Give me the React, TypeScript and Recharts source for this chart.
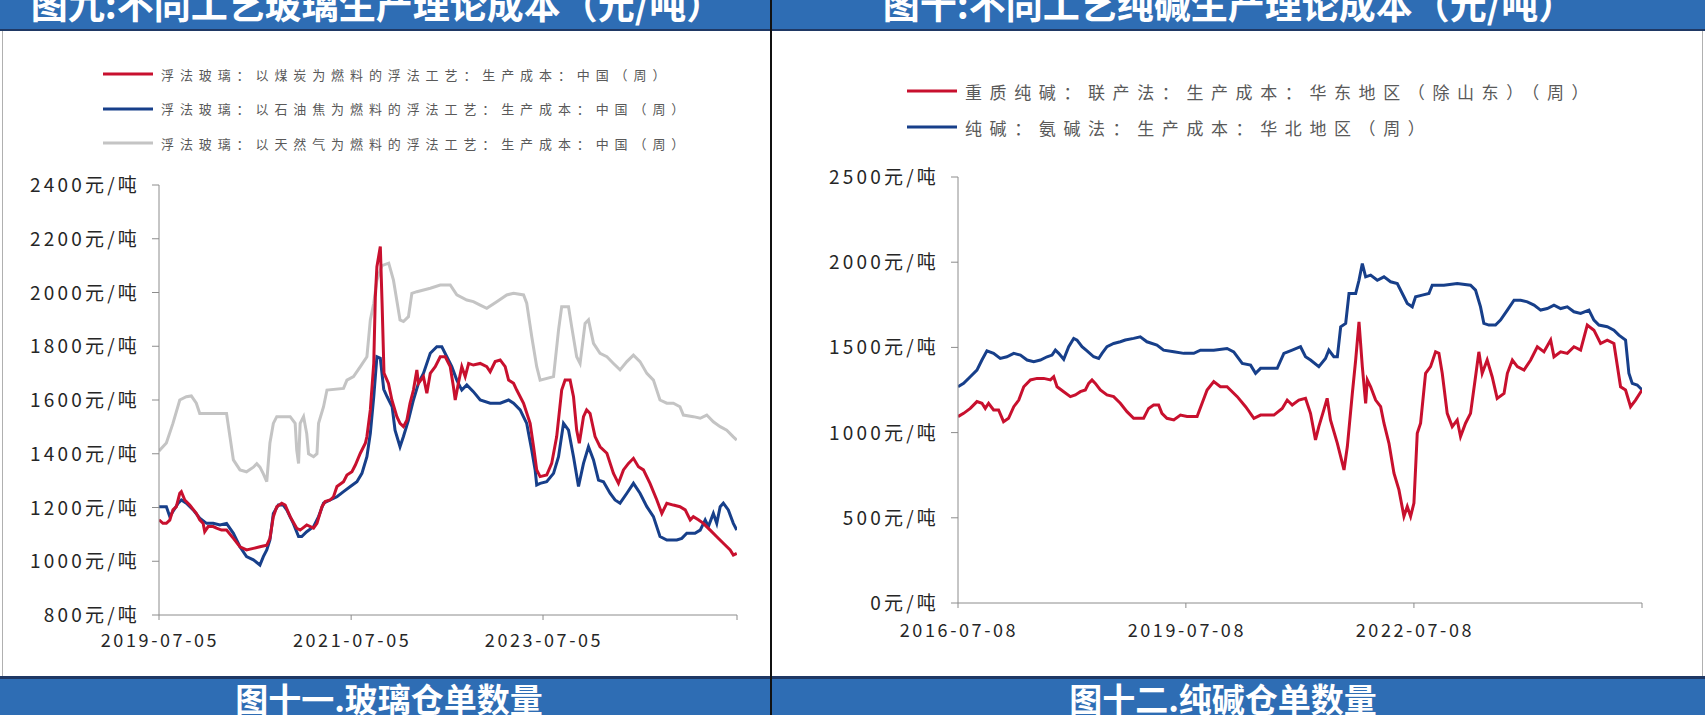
import React from 'react';
import { LineChart, Line, XAxis, YAxis } from 'recharts';

const FONT = '"Noto Sans CJK SC", "Noto Sans", sans-serif';
const BAR_BLUE = '#2E6DB4';
const BAR_EDGE = '#1F3864';
const RED = '#C8102E';
const NAVY = '#173F8A';
const GRAY = '#C4C4C4';

// 图九 玻璃生产理论成本
const glassXTicks = ['2019-07-05', '2021-07-05', '2023-07-05', '2025-07-12'];
const glassYTicks = [800, 1000, 1200, 1400, 1600, 1800, 2000, 2200, 2400];
const glassNames = [
  '浮法玻璃：以煤炭为燃料的浮法工艺：生产成本：中国（周）',
  '浮法玻璃：以石油焦为燃料的浮法工艺：生产成本：中国（周）',
  '浮法玻璃：以天然气为燃料的浮法工艺：生产成本：中国（周）',
];

const glassCoal: [string, number][] = [
  ['2019-07-05', 1154], ['2019-07-20', 1141], ['2019-08-02', 1141], ['2019-08-15', 1153],
  ['2019-08-27', 1191], ['2019-09-09', 1203], ['2019-09-22', 1253], ['2019-09-28', 1259],
  ['2019-10-11', 1228], ['2019-10-30', 1209], ['2019-11-24', 1178], ['2019-12-07', 1154],
  ['2019-12-20', 1141], ['2019-12-26', 1110], ['2020-01-08', 1129], ['2020-01-27', 1129],
  ['2020-02-09', 1123], ['2020-02-28', 1116], ['2020-03-18', 1116], ['2020-04-13', 1085],
  ['2020-05-08', 1054], ['2020-06-02', 1042], ['2020-06-28', 1048], ['2020-07-23', 1054],
  ['2020-08-18', 1060], ['2020-08-30', 1085], ['2020-09-12', 1166], ['2020-09-25', 1203],
  ['2020-10-14', 1216], ['2020-10-27', 1209], ['2020-11-15', 1166], ['2020-12-10', 1123],
  ['2020-12-23', 1116], ['2021-01-17', 1135], ['2021-02-12', 1123], ['2021-02-25', 1141],
  ['2021-03-16', 1203], ['2021-03-28', 1222], ['2021-04-16', 1228], ['2021-04-29', 1240],
  ['2021-05-12', 1278], ['2021-06-06', 1296], ['2021-06-19', 1321], ['2021-07-08', 1333],
  ['2021-07-21', 1358], ['2021-08-09', 1402], ['2021-08-28', 1439], ['2021-09-03', 1464],
  ['2021-09-16', 1563], ['2021-09-29', 1736], ['2021-10-05', 1984], ['2021-10-11', 2096],
  ['2021-10-24', 2171], ['2021-10-31', 1950], ['2021-11-07', 1700], ['2021-11-24', 1662],
  ['2021-12-07', 1600], ['2021-12-26', 1538], ['2022-01-07', 1513], ['2022-01-20', 1501],
  ['2022-02-02', 1525], ['2022-02-14', 1588], ['2022-02-27', 1637], ['2022-03-12', 1712],
  ['2022-03-18', 1662], ['2022-04-06', 1687], ['2022-04-19', 1625], ['2022-05-02', 1699],
  ['2022-05-21', 1724], ['2022-06-09', 1761], ['2022-06-28', 1761], ['2022-07-17', 1724],
  ['2022-07-29', 1650], ['2022-08-05', 1600], ['2022-08-17', 1662], ['2022-08-30', 1724],
  ['2022-09-12', 1687], ['2022-09-25', 1736], ['2022-10-13', 1730], ['2022-11-08', 1736],
  ['2022-12-03', 1724], ['2022-12-16', 1705], ['2023-01-04', 1743], ['2023-01-23', 1749],
  ['2023-02-11', 1724], ['2023-02-24', 1674], ['2023-03-15', 1662], ['2023-03-27', 1637],
  ['2023-04-22', 1588], ['2023-05-17', 1513], ['2023-05-30', 1426], ['2023-06-11', 1340],
  ['2023-06-24', 1315], ['2023-07-19', 1321], ['2023-08-07', 1364], ['2023-08-26', 1464],
  ['2023-09-14', 1637], ['2023-09-27', 1674], ['2023-10-16', 1674], ['2023-10-29', 1612],
  ['2023-11-10', 1488], ['2023-11-20', 1439], ['2023-12-06', 1538], ['2023-12-18', 1563],
  ['2023-12-31', 1550], ['2024-01-19', 1464], ['2024-02-07', 1426], ['2024-03-04', 1402],
  ['2024-03-29', 1327], ['2024-04-17', 1290], ['2024-05-06', 1340], ['2024-05-25', 1364],
  ['2024-06-13', 1383], ['2024-07-02', 1352], ['2024-07-21', 1340], ['2024-08-15', 1290],
  ['2024-09-10', 1228], ['2024-09-29', 1178], ['2024-10-18', 1216], ['2024-11-12', 1209],
  ['2024-12-07', 1203], ['2024-12-27', 1191], ['2025-01-15', 1154], ['2025-01-27', 1166],
  ['2025-02-15', 1154], ['2025-03-06', 1141], ['2025-04-01', 1116], ['2025-04-26', 1091],
  ['2025-05-21', 1067], ['2025-06-16', 1042], ['2025-06-28', 1023], ['2025-07-11', 1029],
];

const glassPetcoke: [string, number][] = [
  ['2019-07-05', 1203], ['2019-08-02', 1203], ['2019-08-15', 1166], ['2019-08-27', 1185],
  ['2019-09-16', 1216], ['2019-09-28', 1228], ['2019-10-17', 1216], ['2019-11-12', 1191],
  ['2019-12-07', 1160], ['2020-01-02', 1141], ['2020-01-27', 1141], ['2020-02-22', 1135],
  ['2020-03-18', 1141], ['2020-04-13', 1104], ['2020-05-08', 1054], ['2020-06-02', 1017],
  ['2020-06-28', 1005], ['2020-07-23', 986], ['2020-08-05', 1017], ['2020-08-18', 1042],
  ['2020-08-30', 1079], ['2020-09-12', 1178], ['2020-10-01', 1209], ['2020-10-20', 1209],
  ['2020-11-02', 1191], ['2020-11-27', 1141], ['2020-12-17', 1092], ['2020-12-29', 1092],
  ['2021-01-17', 1110], ['2021-02-12', 1129], ['2021-03-03', 1166], ['2021-03-22', 1216],
  ['2021-04-16', 1228], ['2021-05-12', 1240], ['2021-06-06', 1259], ['2021-07-02', 1278],
  ['2021-07-27', 1296], ['2021-08-15', 1327], ['2021-09-03', 1389], ['2021-09-16', 1476],
  ['2021-09-29', 1612], ['2021-10-11', 1761], ['2021-10-24', 1755], ['2021-11-06', 1640],
  ['2021-11-19', 1612], ['2021-12-08', 1575], ['2021-12-19', 1488], ['2022-01-07', 1426],
  ['2022-01-20', 1464], ['2022-02-08', 1525], ['2022-02-27', 1600], ['2022-03-18', 1662],
  ['2022-04-06', 1699], ['2022-05-02', 1774], ['2022-05-27', 1798], ['2022-06-15', 1798],
  ['2022-07-04', 1761], ['2022-07-23', 1724], ['2022-08-11', 1674], ['2022-08-30', 1637],
  ['2022-09-18', 1656], ['2022-10-13', 1631], ['2022-11-08', 1600], ['2022-12-16', 1588],
  ['2023-01-23', 1588], ['2023-02-24', 1600], ['2023-03-15', 1588], ['2023-04-09', 1563],
  ['2023-05-04', 1513], ['2023-05-23', 1414], ['2023-06-05', 1340], ['2023-06-11', 1284],
  ['2023-06-24', 1290], ['2023-07-19', 1296], ['2023-08-14', 1327], ['2023-09-02', 1389],
  ['2023-09-21', 1513], ['2023-10-10', 1488], ['2023-10-29', 1389], ['2023-11-17', 1278],
  ['2023-12-06', 1364], ['2023-12-25', 1426], ['2024-01-13', 1377], ['2024-02-01', 1302],
  ['2024-02-20', 1296], ['2024-03-16', 1253], ['2024-04-04', 1228], ['2024-04-23', 1216],
  ['2024-05-19', 1253], ['2024-06-13', 1290], ['2024-07-08', 1253], ['2024-08-03', 1203],
  ['2024-08-28', 1166], ['2024-09-22', 1092], ['2024-10-18', 1079], ['2024-11-25', 1079],
  ['2024-12-14', 1085], ['2025-01-02', 1104], ['2025-02-02', 1104], ['2025-02-22', 1116],
  ['2025-03-13', 1154], ['2025-03-25', 1129], ['2025-04-13', 1178], ['2025-04-26', 1141],
  ['2025-05-09', 1203], ['2025-05-21', 1216], ['2025-06-09', 1191], ['2025-06-28', 1141],
  ['2025-07-11', 1116],
];

const glassGas: [string, number][] = [
  ['2019-07-05', 1410], ['2019-08-02', 1440], ['2019-08-27', 1513], ['2019-09-22', 1600],
  ['2019-10-17', 1612], ['2019-11-05', 1615], ['2019-11-24', 1588], ['2019-12-07', 1550],
  ['2020-03-18', 1550], ['2020-03-31', 1463], ['2020-04-13', 1377], ['2020-05-08', 1340],
  ['2020-06-02', 1333], ['2020-06-28', 1350], ['2020-07-11', 1363], ['2020-07-23', 1350],
  ['2020-08-05', 1325], ['2020-08-18', 1296], ['2020-08-30', 1440], ['2020-09-12', 1513],
  ['2020-09-25', 1538], ['2020-11-15', 1538], ['2020-12-04', 1513], ['2020-12-10', 1414],
  ['2020-12-17', 1364], ['2020-12-23', 1513], ['2021-01-05', 1538], ['2021-01-17', 1475],
  ['2021-01-24', 1400], ['2021-02-12', 1389], ['2021-02-25', 1400], ['2021-03-03', 1513],
  ['2021-03-22', 1575], ['2021-04-04', 1637], ['2021-06-06', 1643], ['2021-06-19', 1674],
  ['2021-07-14', 1687], ['2021-08-09', 1724], ['2021-09-03', 1761], ['2021-09-16', 1898],
  ['2021-09-29', 1960], ['2021-10-11', 2046], ['2021-10-30', 2100], ['2021-11-25', 2109],
  ['2021-12-13', 2046], ['2022-01-07', 1898], ['2022-01-20', 1892], ['2022-02-08', 1910],
  ['2022-02-21', 1997], ['2022-03-12', 2003], ['2022-05-02', 2016], ['2022-06-09', 2028],
  ['2022-07-17', 2028], ['2022-08-11', 1991], ['2022-09-18', 1972], ['2022-10-13', 1966],
  ['2022-11-08', 1953], ['2022-12-03', 1941], ['2023-01-10', 1966], ['2023-02-17', 1991],
  ['2023-03-15', 1997], ['2023-04-22', 1991], ['2023-05-04', 1960], ['2023-05-23', 1836],
  ['2023-06-11', 1724], ['2023-06-24', 1674], ['2023-08-14', 1687], ['2023-09-02', 1860],
  ['2023-09-14', 1947], ['2023-10-10', 1947], ['2023-10-22', 1873], ['2023-11-10', 1761],
  ['2023-11-23', 1736], ['2023-12-12', 1885], ['2023-12-25', 1898], ['2024-01-13', 1811],
  ['2024-02-07', 1774], ['2024-03-04', 1761], ['2024-03-29', 1736], ['2024-04-23', 1712],
  ['2024-05-19', 1743], ['2024-06-13', 1767], ['2024-07-08', 1743], ['2024-08-03', 1699],
  ['2024-08-28', 1674], ['2024-09-22', 1600], ['2024-10-18', 1588], ['2024-11-12', 1588],
  ['2024-12-07', 1575], ['2024-12-20', 1544], ['2025-01-27', 1538], ['2025-02-22', 1532],
  ['2025-03-19', 1544], ['2025-04-13', 1519], ['2025-05-09', 1501], ['2025-06-03', 1488],
  ['2025-06-28', 1463], ['2025-07-11', 1451],
];

// 图十 纯碱生产理论成本
const sodaXTicks = ['2016-07-08', '2019-07-08', '2022-07-08', '2025-07-08'];
const sodaYTicks = [0, 500, 1000, 1500, 2000, 2500];
const sodaNames = [
  '重质纯碱：联产法：生产成本：华东地区（除山东）（周）',
  '纯碱：氨碱法：生产成本：华北地区（周）',
];

const sodaJoint: [string, number][] = [
  ['2016-07-08', 1094], ['2016-08-04', 1113], ['2016-09-05', 1142], ['2016-10-07', 1182],
  ['2016-10-31', 1172], ['2016-11-16', 1142], ['2016-12-02', 1172], ['2016-12-26', 1133],
  ['2017-01-19', 1133], ['2017-02-12', 1064], ['2017-03-08', 1084], ['2017-04-02', 1152],
  ['2017-04-26', 1191], ['2017-05-20', 1269], ['2017-06-21', 1309], ['2017-07-23', 1318],
  ['2017-08-24', 1318], ['2017-09-25', 1309], ['2017-10-11', 1328], ['2017-10-27', 1269],
  ['2017-11-28', 1240], ['2017-12-30', 1211], ['2018-01-23', 1221], ['2018-02-16', 1240],
  ['2018-03-12', 1250], ['2018-03-28', 1289], ['2018-04-13', 1309], ['2018-04-29', 1289],
  ['2018-05-23', 1250], ['2018-06-24', 1221], ['2018-07-26', 1211], ['2018-08-27', 1172],
  ['2018-09-28', 1123], ['2018-10-30', 1084], ['2018-12-17', 1084], ['2019-01-10', 1142],
  ['2019-02-03', 1162], ['2019-02-27', 1162], ['2019-03-15', 1113], ['2019-04-08', 1084],
  ['2019-05-11', 1074], ['2019-06-12', 1103], ['2019-07-14', 1094], ['2019-08-31', 1094],
  ['2019-09-24', 1172], ['2019-10-18', 1250], ['2019-11-19', 1299], ['2019-12-21', 1269],
  ['2020-01-22', 1269], ['2020-03-11', 1211], ['2020-04-20', 1152], ['2020-05-30', 1084],
  ['2020-07-01', 1103], ['2020-09-03', 1103], ['2020-10-13', 1142], ['2020-11-06', 1191],
  ['2020-11-30', 1162], ['2021-01-01', 1191], ['2021-02-02', 1201], ['2021-02-26', 1113],
  ['2021-03-22', 957], ['2021-04-07', 1035], ['2021-05-01', 1133], ['2021-05-17', 1201],
  ['2021-06-02', 1074], ['2021-07-05', 937], ['2021-08-06', 781], ['2021-08-22', 918],
  ['2021-09-15', 1230], ['2021-10-01', 1426], ['2021-10-17', 1650], ['2021-11-02', 1387],
  ['2021-11-18', 1172], ['2021-11-26', 1309], ['2021-12-12', 1269], ['2022-01-05', 1191],
  ['2022-01-29', 1152], ['2022-02-14', 1055], ['2022-03-10', 937], ['2022-04-03', 762],
  ['2022-04-27', 664], ['2022-05-21', 508], ['2022-06-06', 566], ['2022-06-22', 508],
  ['2022-07-08', 586], ['2022-07-24', 996], ['2022-08-09', 1055], ['2022-09-02', 1348],
  ['2022-09-26', 1387], ['2022-10-20', 1474], ['2022-11-05', 1465], ['2022-11-21', 1348],
  ['2022-12-15', 1113], ['2023-01-08', 1035], ['2023-02-01', 1074], ['2023-02-17', 977],
  ['2023-03-13', 1055], ['2023-04-06', 1113], ['2023-04-30', 1328], ['2023-05-16', 1474],
  ['2023-06-01', 1348], ['2023-06-25', 1426], ['2023-07-19', 1328], ['2023-08-12', 1201],
  ['2023-09-14', 1230], ['2023-09-30', 1348], ['2023-10-24', 1426], ['2023-11-17', 1387],
  ['2023-12-19', 1367], ['2024-01-20', 1426], ['2024-02-21', 1504], ['2024-03-24', 1474],
  ['2024-04-25', 1543], ['2024-05-11', 1445], ['2024-06-12', 1474], ['2024-07-14', 1465],
  ['2024-08-15', 1504], ['2024-09-16', 1484], ['2024-10-18', 1631], ['2024-11-19', 1601],
  ['2024-12-21', 1523], ['2025-01-22', 1543], ['2025-02-23', 1523], ['2025-03-27', 1269],
  ['2025-04-20', 1250], ['2025-05-14', 1152], ['2025-06-07', 1191], ['2025-07-08', 1250],
];

const sodaAmmonia: [string, number][] = [
  ['2016-07-08', 1269], ['2016-08-04', 1289], ['2016-09-05', 1328], ['2016-10-07', 1367],
  ['2016-10-31', 1426], ['2016-11-24', 1480], ['2016-12-26', 1465], ['2017-01-27', 1435],
  ['2017-02-28', 1445], ['2017-04-02', 1465], ['2017-05-04', 1455], ['2017-06-05', 1426],
  ['2017-07-07', 1416], ['2017-08-08', 1426], ['2017-09-09', 1445], ['2017-10-03', 1455],
  ['2017-10-19', 1484], ['2017-11-04', 1465], ['2017-11-28', 1430], ['2017-12-22', 1504],
  ['2018-01-15', 1553], ['2018-01-31', 1543], ['2018-02-24', 1504], ['2018-03-20', 1480],
  ['2018-04-21', 1445], ['2018-05-15', 1435], ['2018-05-31', 1465], ['2018-06-24', 1504],
  ['2018-07-26', 1523], ['2018-08-27', 1533], ['2018-09-20', 1543], ['2018-10-30', 1553],
  ['2018-12-01', 1562], ['2019-01-02', 1533], ['2019-02-19', 1514], ['2019-03-23', 1484],
  ['2019-05-11', 1474], ['2019-06-28', 1465], ['2019-08-15', 1465], ['2019-09-16', 1484],
  ['2019-11-19', 1484], ['2020-01-22', 1494], ['2020-02-23', 1474], ['2020-04-04', 1406],
  ['2020-05-14', 1396], ['2020-06-07', 1348], ['2020-07-01', 1377], ['2020-09-19', 1377],
  ['2020-10-21', 1465], ['2020-11-30', 1484], ['2021-01-09', 1504], ['2021-02-02', 1445],
  ['2021-02-26', 1426], ['2021-04-07', 1387], ['2021-05-09', 1435], ['2021-05-25', 1484],
  ['2021-06-18', 1445], ['2021-07-05', 1445], ['2021-07-21', 1621], ['2021-08-14', 1641],
  ['2021-08-30', 1816], ['2021-10-01', 1816], ['2021-10-17', 1894], ['2021-11-02', 1992],
  ['2021-11-18', 1914], ['2021-12-12', 1924], ['2022-01-13', 1894], ['2022-02-14', 1914],
  ['2022-03-18', 1885], ['2022-04-19', 1875], ['2022-05-21', 1797], ['2022-06-06', 1758],
  ['2022-06-30', 1738], ['2022-07-16', 1797], ['2022-08-17', 1807], ['2022-09-18', 1816],
  ['2022-10-04', 1865], ['2022-11-29', 1865], ['2023-02-01', 1875], ['2023-04-06', 1865],
  ['2023-04-30', 1836], ['2023-05-24', 1738], ['2023-06-09', 1641], ['2023-07-03', 1631],
  ['2023-08-04', 1631], ['2023-08-28', 1660], ['2023-09-30', 1719], ['2023-11-01', 1777],
  ['2023-12-03', 1777], ['2024-01-04', 1767], ['2024-02-05', 1748], ['2024-03-08', 1719],
  ['2024-04-09', 1728], ['2024-05-11', 1748], ['2024-06-12', 1728], ['2024-07-14', 1738],
  ['2024-08-15', 1709], ['2024-09-16', 1699], ['2024-10-26', 1719], ['2024-11-19', 1660],
  ['2024-12-13', 1631], ['2025-01-22', 1621], ['2025-02-23', 1601], ['2025-03-19', 1572],
  ['2025-04-20', 1543], ['2025-05-06', 1348], ['2025-05-22', 1289], ['2025-06-15', 1279],
  ['2025-07-09', 1250],
];

const toPts = (s: [string, number][]) => s.map(([d, v]) => ({ x: Date.parse(d), y: v }));
const fmtDate = (ms: number) => new Date(ms).toISOString().slice(0, 10);

interface Series {
  name: string;
  color: string;
  points: [string, number][];
}

interface ChartProps {
  left: number;
  width: number;
  margin: { top: number; right: number; bottom: number; left: number };
  yWidth: number;
  xTicks: string[];
  yTicks: number[];
  series: Series[];
  legendTop: number;
  legendLeft: number;
  legendGap: number;
  legendFont: number;
  legendSpacing: number;
  xLabelDy: number;
}

function YTick({ x, y, payload }: any) {
  return (
    <text
      x={x}
      y={y}
      dy={7}
      textAnchor="end"
      fill="#262626"
      style={{ fontFamily: FONT, fontSize: 19, letterSpacing: 3.2 }}
    >
      {`${payload.value}元/吨`}
    </text>
  );
}

function makeXTick(lastTick: number, dy: number) {
  return function XTick({ x, y, payload }: any) {
    if (payload.value === lastTick) return <g />;
    return (
      <text
        x={x + 1}
        y={y}
        dy={dy}
        textAnchor="middle"
        fill="#262626"
        style={{ fontFamily: FONT, fontSize: 18, letterSpacing: 2.6 }}
      >
        {fmtDate(payload.value)}
      </text>
    );
  };
}

function CostChart(p: ChartProps) {
  const xVals = p.xTicks.map((d) => Date.parse(d));
  const last = xVals[xVals.length - 1];
  return (
    <div style={{ position: 'absolute', left: p.left, top: 31, width: p.width, height: 643 }}>
      <div style={{ position: 'absolute', left: p.legendLeft, top: p.legendTop }}>
        {p.series.map((s, i) => (
          <div
            key={s.name}
            style={{
              position: 'absolute',
              top: i * p.legendGap,
              left: 0,
              display: 'flex',
              alignItems: 'center',
              whiteSpace: 'nowrap',
              height: 20,
            }}
          >
            <svg width={52} height={6} style={{ marginRight: 6 }}>
              <line x1={0} y1={3} x2={50} y2={3} stroke={s.color} strokeWidth={3} />
            </svg>
            <span
              style={{
                fontFamily: FONT,
                fontSize: p.legendFont,
                letterSpacing: p.legendSpacing,
                color: '#595959',
              }}
            >
              {s.name}
            </span>
          </div>
        ))}
      </div>
      <LineChart width={p.width} height={643} margin={p.margin}>
        <XAxis
          dataKey="x"
          type="number"
          domain={[xVals[0], last]}
          ticks={xVals}
          allowDataOverflow
          height={40}
          axisLine={{ stroke: '#8c8c8c' }}
          tickLine={{ stroke: '#8c8c8c' }}
          tickSize={5}
          tick={makeXTick(last, p.xLabelDy)}
          interval={0}
        />
        <YAxis
          type="number"
          domain={[p.yTicks[0], p.yTicks[p.yTicks.length - 1]]}
          ticks={p.yTicks}
          width={p.yWidth}
          axisLine={{ stroke: '#8c8c8c' }}
          tickLine={{ stroke: '#8c8c8c' }}
          tickSize={7}
          tickMargin={12}
          tick={YTick}
          interval={0}
        />
        {[...p.series].reverse().map((s) => (
          <Line
            key={s.name}
            data={toPts(s.points)}
            dataKey="y"
            name={s.name}
            type="linear"
            stroke={s.color}
            strokeWidth={3}
            dot={false}
            activeDot={false}
            isAnimationActive={false}
          />
        ))}
      </LineChart>
    </div>
  );
}

function Title({ text, center, top, size }: { text: string; center: number; top: number; size: number }) {
  return (
    <div
      style={{
        position: 'absolute',
        left: center,
        top,
        transform: 'translateX(-50%)',
        fontFamily: FONT,
        fontWeight: 700,
        fontSize: size,
        lineHeight: `${size}px`,
        color: '#ffffff',
        whiteSpace: 'nowrap',
      }}
    >
      {text}
    </div>
  );
}

export default function App() {
  return (
    <div
      style={{
        position: 'absolute',
        left: 0,
        top: 0,
        width: 1705,
        height: 715,
        overflow: 'hidden',
        background: '#ffffff',
      }}
    >
      {/* top title bar */}
      <div style={{ position: 'absolute', left: 0, top: 0, width: 1705, height: 29, background: BAR_BLUE }} />
      <div style={{ position: 'absolute', left: 0, top: 29, width: 1705, height: 2, background: BAR_EDGE }} />
      {/* bottom title bar */}
      <div style={{ position: 'absolute', left: 0, top: 676, width: 1705, height: 3, background: BAR_EDGE }} />
      <div style={{ position: 'absolute', left: 0, top: 679, width: 1705, height: 36, background: BAR_BLUE }} />
      {/* frame lines */}
      <div style={{ position: 'absolute', left: 2, top: 31, width: 1, height: 645, background: '#b0b0b0' }} />
      <div style={{ position: 'absolute', left: 1702, top: 31, width: 1, height: 645, background: '#b0b0b0' }} />
      <div style={{ position: 'absolute', left: 770, top: 0, width: 2, height: 715, background: '#111111' }} />

      <Title text="图九:不同工艺玻璃生产理论成本（元/吨）" center={377} top={-15} size={37} />
      <Title text="图十:不同工艺纯碱生产理论成本（元/吨）" center={1229} top={-15} size={37} />
      <Title text="图十一.玻璃仓单数量" center={389} top={682} size={33} />
      <Title text="图十二.纯碱仓单数量" center={1223} top={682} size={33} />

      <CostChart
        left={0}
        width={770}
        margin={{ top: 154, right: 33, bottom: 19, left: 19 }}
        yWidth={140}
        xTicks={glassXTicks}
        yTicks={glassYTicks}
        series={[
          { name: glassNames[0], color: RED, points: glassCoal },
          { name: glassNames[1], color: NAVY, points: glassPetcoke },
          { name: glassNames[2], color: GRAY, points: glassGas },
        ]}
        legendTop={33}
        legendLeft={103}
        legendGap={34.5}
        legendFont={13}
        legendSpacing={5.9}
        xLabelDy={24.5}
      />
      <CostChart
        left={772}
        width={933}
        margin={{ top: 146, right: 63, bottom: 31, left: 36 }}
        yWidth={150}
        xTicks={sodaXTicks}
        yTicks={sodaYTicks}
        series={[
          { name: sodaNames[0], color: RED, points: sodaJoint },
          { name: sodaNames[1], color: NAVY, points: sodaAmmonia },
        ]}
        legendTop={50}
        legendLeft={135}
        legendGap={36}
        legendFont={17}
        legendSpacing={7.6}
        xLabelDy={26.5}
      />
    </div>
  );
}
